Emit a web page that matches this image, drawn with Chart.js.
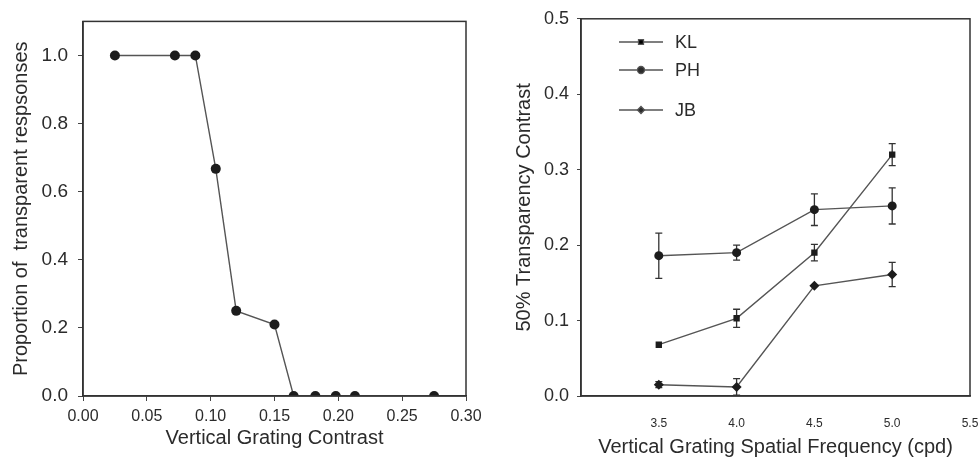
<!DOCTYPE html>
<html>
<head>
<meta charset="utf-8">
<script src="https://cdn.jsdelivr.net/npm/chart.js@4.4.0/dist/chart.umd.min.js"></script>
<style>
  body { margin: 0; background: #fff; }
  #wrap { position: relative; width: 980px; height: 467px; }
  canvas { position: absolute; top: 0; }
  #left { left: 0; }
  #right { left: 490px; }
</style>
</head>
<body>
<div id="wrap">
  <canvas id="left" width="490" height="467"></canvas>
  <canvas id="right" width="490" height="467"></canvas>
</div>
<script>
// left panel: proportion of transparent responses
const contrast = [0.025, 0.072, 0.088, 0.104, 0.12, 0.15, 0.165, 0.182, 0.198, 0.213, 0.275]
const proportion = [1, 1, 1, 0.667, 0.25, 0.21, 0, 0, 0, 0, 0]

// right panel: 50% transparency contrast per observer
const frequency = [3.5, 4.0, 4.5, 5.0]
const klValues = [0.068, 0.103, 0.19, 0.32]
const klErrors = [0, 0.012, 0.011, 0.0145]
const phValues = [0.186, 0.19, 0.247, 0.252]
const phErrors = [0.03, 0.01, 0.021, 0.024]
const jbValues = [0.015, 0.012, 0.146, 0.161]
const jbErrors = [0.004, 0.011, 0, 0.016]
const observers = ["KL", "PH", "JB"]

const FONT = "'Liberation Sans', Arial, sans-serif"
const INK = "#2b2b2b"
const LINE = "#555"

Chart.defaults.font.family = FONT
Chart.defaults.color = INK
Chart.defaults.animation = false

const toXY = (xs, ys) => xs.map((x, i) => ({ x: x, y: ys[i] }))

// box around the plotting area
const framePlugin = {
  id: "frame",
  afterDraw(chart) {
    const { left, top, right, bottom } = chart.chartArea
    const ctx = chart.ctx
    ctx.save()
    ctx.strokeStyle = "#333"
    ctx.lineWidth = 1.5
    ctx.strokeRect(left, top, right - left, bottom - top)
    ctx.restore()
  }
}

// vertical error bars with caps, drawn under the markers
const errorBarPlugin = {
  id: "errorBars",
  beforeDatasetsDraw(chart) {
    const ctx = chart.ctx
    const yScale = chart.scales.y
    ctx.save()
    ctx.strokeStyle = "#333"
    ctx.lineWidth = 1.3
    chart.data.datasets.forEach((ds, i) => {
      if (!ds.errors) return
      const meta = chart.getDatasetMeta(i)
      meta.data.forEach((pt, j) => {
        const e = ds.errors[j]
        if (!e) return
        const v = ds.data[j].y
        const y1 = yScale.getPixelForValue(v + e)
        const y2 = yScale.getPixelForValue(v - e)
        ctx.beginPath()
        ctx.moveTo(pt.x, y1); ctx.lineTo(pt.x, y2)
        ctx.moveTo(pt.x - 3.5, y1); ctx.lineTo(pt.x + 3.5, y1)
        ctx.moveTo(pt.x - 3.5, y2); ctx.lineTo(pt.x + 3.5, y2)
        ctx.stroke()
      })
    })
    ctx.restore()
  }
}

// legend in the upper left corner of the plot
const legendPlugin = {
  id: "innerLegend",
  afterDraw(chart) {
    const ctx = chart.ctx
    const rows = [42, 70, 110]
    ctx.save()
    chart.data.datasets.forEach((ds, i) => {
      const y = rows[i]
      ctx.strokeStyle = LINE
      ctx.lineWidth = 1.3
      ctx.beginPath()
      ctx.moveTo(129, y); ctx.lineTo(173, y)
      ctx.stroke()
      Chart.helpers.drawPoint(ctx, {
        pointStyle: ds.pointStyle,
        radius: 3.5,
        borderWidth: 1
      }, 151, y)
      ctx.fillStyle = INK
      ctx.font = "18px " + FONT
      ctx.textBaseline = "middle"
      ctx.fillText(ds.label, 185, y + 1)
    })
    ctx.restore()
  }
}

new Chart("left", {
  type: "scatter",
  data: {
    datasets: [{
      data: toXY(contrast, proportion),
      showLine: true,
      borderColor: LINE,
      borderWidth: 1.4,
      pointRadius: 5,
      pointBackgroundColor: "#1c1c1c",
      pointBorderColor: "#1c1c1c",
      pointBorderWidth: 0
    }]
  },
  options: {
    responsive: false,
    layout: { padding: { top: 17, right: 24, left: 0, bottom: 0 } },
    plugins: { legend: { display: false }, tooltip: { enabled: false } },
    scales: {
      x: {
        type: "linear",
        min: 0, max: 0.3,
        afterFit: (s) => { s.height = 71 },
        grid: { drawOnChartArea: false, tickLength: 5, color: "#444" },
        border: { color: "#333", width: 1.5 },
        ticks: { stepSize: 0.05, padding: 6, font: { size: 16 }, callback: (v) => v.toFixed(2) },
        title: { display: true, text: "Vertical Grating Contrast", font: { size: 20 }, padding: { top: 17, bottom: 17 } }
      },
      y: {
        min: 0, max: 1.1,
        afterFit: (s) => { s.width = 83 },
        afterBuildTicks: (s) => { s.ticks = s.ticks.filter(t => t.value <= 1.0001) },
        grid: { drawOnChartArea: false, tickLength: 5, color: "#444" },
        border: { color: "#333", width: 1.5 },
        ticks: { stepSize: 0.2, padding: 10, font: { size: 19 }, callback: (v) => v.toFixed(1) },
        title: { display: true, text: "Proportion of  transparent respsonses", font: { size: 20 }, padding: { top: 9, bottom: 9 } }
      }
    }
  },
  plugins: [framePlugin]
})

const series = [
  { values: klValues, errors: klErrors, style: "rect", radius: 4.5 },
  { values: phValues, errors: phErrors, style: "circle", radius: 4.5 },
  { values: jbValues, errors: jbErrors, style: "rectRot", radius: 5 }
]

new Chart("right", {
  type: "scatter",
  data: {
    datasets: series.map((s, i) => ({
      label: observers[i],
      data: toXY(frequency, s.values),
      errors: s.errors,
      showLine: true,
      borderColor: LINE,
      borderWidth: 1.4,
      pointStyle: s.style,
      pointRadius: s.radius,
      pointBackgroundColor: "#1c1c1c",
      pointBorderColor: "#1c1c1c",
      pointBorderWidth: 0
    }))
  },
  options: {
    responsive: false,
    layout: { padding: { top: 16, right: 10, left: 0, bottom: 0 } },
    plugins: { legend: { display: false }, tooltip: { enabled: false } },
    scales: {
      x: {
        type: "linear",
        min: 3.0, max: 5.5,
        afterFit: (s) => { s.height = 71; s.paddingLeft = 0; s.paddingRight = 0 },
        grid: { display: false },
        border: { color: "#333", width: 1.5 },
        ticks: { stepSize: 0.5, padding: 12, font: { size: 12 }, callback: (v) => v === 3 ? "" : v.toFixed(1) },
        title: { display: true, text: "Vertical Grating Spatial Frequency (cpd)", font: { size: 20 }, padding: { top: 8, bottom: 8 } }
      },
      y: {
        min: 0, max: 0.5,
        afterFit: (s) => { s.width = 91 },
        grid: { drawOnChartArea: false, tickLength: 4, color: "#444" },
        border: { color: "#333", width: 1.5 },
        ticks: { stepSize: 0.1, padding: 8, font: { size: 18 }, callback: (v) => v.toFixed(1) },
        title: { display: true, text: "50% Transparency Contrast", font: { size: 20 }, padding: { top: 22, bottom: 22 } }
      }
    }
  },
  plugins: [framePlugin, errorBarPlugin, legendPlugin]
})
</script>
</body>
</html>
